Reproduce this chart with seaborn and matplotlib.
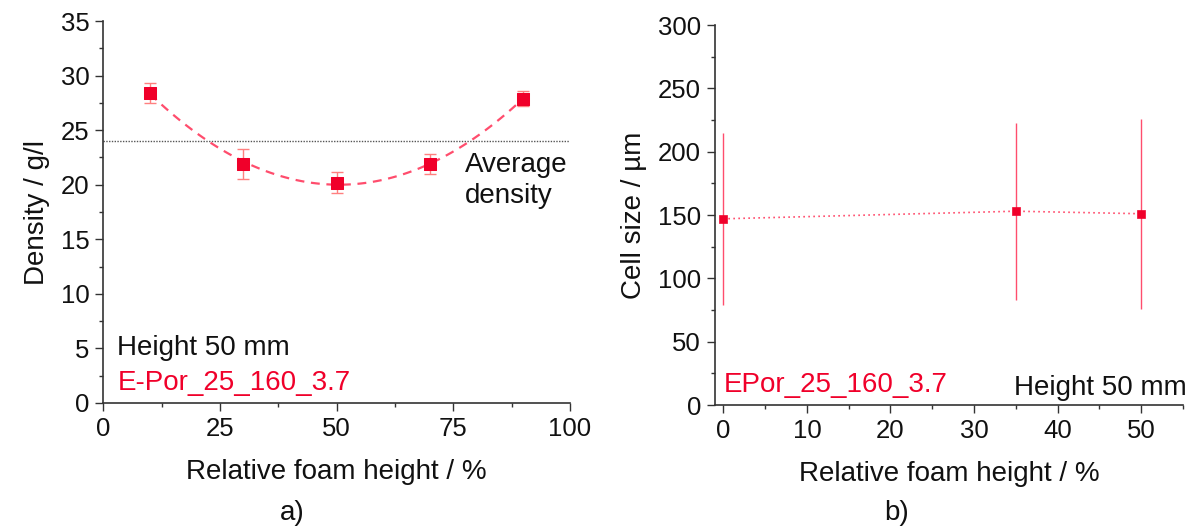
import numpy as np
import matplotlib
matplotlib.use("Agg")
import matplotlib.pyplot as plt
import seaborn as sns
from matplotlib.ticker import AutoMinorLocator

sns.set_theme(style="ticks")
plt.rcParams["font.family"] = ["Liberation Sans", "DejaVu Sans"]
plt.rcParams["text.color"] = "#111111"
plt.rcParams["axes.labelcolor"] = "#111111"
plt.rcParams["xtick.labelcolor"] = "#111111"
plt.rcParams["ytick.labelcolor"] = "#111111"

# -----------------------------
# DATA
# -----------------------------
# a) density vs relative foam height
height_a = [10, 30, 50, 70, 90]
density = [28.4, 21.9, 20.2, 21.9, 27.9]
density_err = [0.95, 1.4, 0.95, 0.9, 0.7]
avg_density = 24.0

# b) cell size vs relative foam height
height_b = [0, 35, 50]
cell_size = [147, 153, 151]
cell_err = [68, 70, 75]

RED = "#f0002a"
PINK = "#ff4d6d"
FS = 20      # labels / annotations
TFS = 18.5   # tick labels

fig = plt.figure(figsize=(11.99, 5.32), dpi=100)
ax1 = fig.add_axes([0.0863, 0.2425, 0.3891, 0.718])
ax2 = fig.add_axes([0.5963, 0.2387, 0.3903, 0.7143])

# -----------------------------
# PANEL a)
# -----------------------------
ax1.axhline(avg_density, xmin=0, xmax=1, color="#555555", lw=1, ls=(0, (1, 1)))
sns.regplot(x=height_a, y=density, order=2, ci=None, scatter=False, ax=ax1,
            line_kws=dict(color=PINK, lw=1.6, ls=(0, (4, 3))))
ax1.errorbar(height_a, density, yerr=density_err, fmt="none",
             ecolor="#ff7f7f", elinewidth=1, capsize=4, capthick=1)
sns.scatterplot(x=height_a, y=density, ax=ax1, marker="s", s=85,
                color=RED, edgecolor=RED, zorder=5)

ax1.set_xlim(0, 100)
ax1.set_ylim(0, 35)
ax1.set_xticks([0, 25, 50, 75, 100])
ax1.set_yticks(range(0, 36, 5))
ax1.xaxis.set_minor_locator(AutoMinorLocator(2))
ax1.yaxis.set_minor_locator(AutoMinorLocator(2))
ax1.set_xlabel("Relative foam height / %", fontsize=FS, labelpad=13)
ax1.set_ylabel("Density / g/l", fontsize=FS, labelpad=8)
ax1.text(77.5, 20.4, "Average\ndensity", fontsize=FS, ha="left", va="center",
         linespacing=1.25)
ax1.text(3, 5.0, "Height 50 mm", fontsize=FS, ha="left", va="center")
ax1.text(3, 1.8, "E-Por_25_160_3.7", fontsize=FS, ha="left", va="center", color=RED)

# -----------------------------
# PANEL b)
# -----------------------------
ax2.errorbar(height_b, cell_size, yerr=cell_err, fmt="none",
             ecolor=PINK, elinewidth=1, capsize=0)
sns.lineplot(x=height_b, y=cell_size, ax=ax2, color=PINK, lw=1.2,
             ls=(0, (1, 2)))
sns.scatterplot(x=height_b, y=cell_size, ax=ax2, marker="s", s=35,
                color=RED, edgecolor=RED, zorder=5)

ax2.set_xlim(-1, 55)
ax2.set_ylim(0, 300)
ax2.set_xticks(range(0, 51, 10))
ax2.set_yticks(range(0, 301, 50))
ax2.xaxis.set_minor_locator(AutoMinorLocator(2))
ax2.yaxis.set_minor_locator(AutoMinorLocator(2))
ax2.set_xlabel("Relative foam height / %", fontsize=FS, labelpad=13)
ax2.set_ylabel("Cell size / µm", fontsize=FS, labelpad=8)
ax2.text(0, 15.8, "EPor_25_160_3.7", fontsize=FS, ha="left", va="center", color=RED)
ax2.text(55.5, 13.4, "Height 50 mm", fontsize=FS, ha="right", va="center")

for ax in (ax1, ax2):
    sns.despine(ax=ax)
    ax.tick_params(axis="both", which="major", labelsize=TFS, length=6,
                   width=1, color="#333333", pad=4)
    ax.tick_params(axis="both", which="minor", length=3, width=1, color="#333333")
    for sp in ("left", "bottom"):
        ax.spines[sp].set_color("#333333")
        ax.spines[sp].set_linewidth(1.2)

fig.text(0.2435, 0.0357, "a)", fontsize=FS, ha="center", va="center")
fig.text(0.748, 0.0357, "b)", fontsize=FS, ha="center", va="center")

fig.savefig("out.png", dpi=100)
